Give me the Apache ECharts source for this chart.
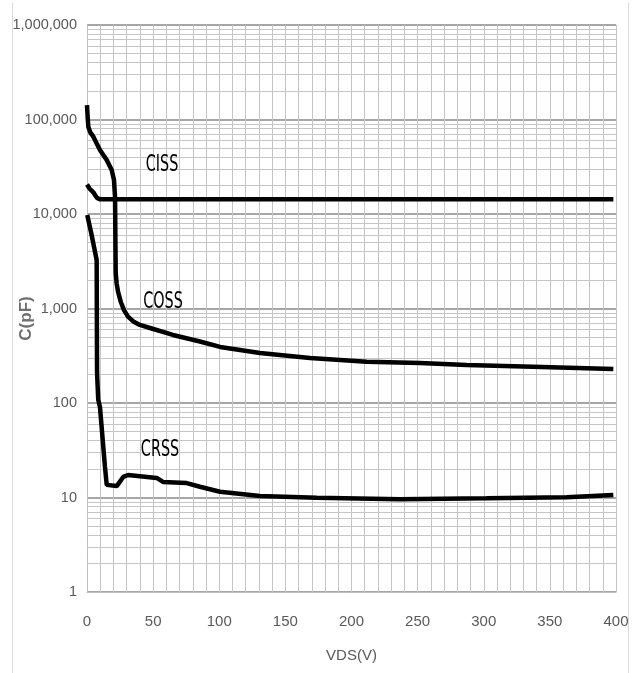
<!DOCTYPE html>
<html><head><meta charset="utf-8">
<script src="https://cdn.jsdelivr.net/npm/echarts@6/dist/echarts.min.js"></script>
<style>html,body{margin:0;padding:0;background:#fff}#c{width:635px;height:673px}</style>
</head><body><div id="c"></div>
<script>
// ---- data ----
const vdsCiss = [0, 2, 5, 7.5, 10, 50, 100, 200, 300, 398];
const ciss    = [20500, 18500, 16800, 14800, 14300, 14300, 14300, 14300, 14300, 14300];

const vdsCoss = [0, 0.5, 1, 2.5, 4.8, 9.8, 14.9, 18.7, 20.4, 21.2, 21.7, 22.4, 23.5, 25.5, 28, 31, 35, 40, 47.6, 65, 85.4, 100.6, 130.8, 168.6, 211.5, 251.8, 287, 337, 398];
const coss    = [142000, 105000, 84000, 73000, 65800, 47600, 37300, 29200, 22900, 15200, 2400, 1850, 1500, 1180, 960, 820, 730, 670, 622, 525, 448, 392, 338, 299, 273, 265, 252, 242, 229];

const vdsCrss = [0.2, 3.5, 7.3, 7.6, 8.5, 9.8, 13.6, 14.9, 22.5, 27.4, 31, 52.7, 57.5, 75.4, 85.4, 100.6, 130.8, 173.7, 236.7, 302, 362.7, 398];
const crss    = [9760, 6000, 3260, 208, 108, 90.7, 21, 13.6, 13.2, 16.5, 17.3, 16.1, 14.6, 14.2, 13.0, 11.5, 10.4, 9.95, 9.6, 9.8, 10.05, 10.6];

const labelNames = ['CISS', 'COSS', 'CRSS'];
const labelVds   = [56.7, 57.5, 55.2];
const labelCap   = [33000, 1170, 31.8];

const xTicks = [0, 50, 100, 150, 200, 250, 300, 350, 400];
const yDecades = [1, 10, 100, 1000, 10000, 100000, 1000000];

// ---- build ----
const pairs = (xs, ys) => xs.map((x, i) => [x, ys[i]]);
const minorGrid = [];
for (let k = 0; k < yDecades.length - 1; k++) {
  for (let m = 2; m <= 9; m++) minorGrid.push({ yAxis: m * yDecades[k] });
}
const FONT = "'Liberation Sans', Arial, sans-serif";
const lineStyle = { color: '#000', width: 4.5 };

const chart = echarts.init(document.getElementById('c'), null, { renderer: 'canvas' });
chart.setOption({
  animation: false,
  backgroundColor: '#fff',
  grid: { left: 87, right: 19, top: 25, bottom: 81, containLabel: false, outerBoundsMode: 'none' },
  xAxis: {
    type: 'value', min: 0, max: 400, interval: 50,
    name: 'VDS(V)', nameLocation: 'middle', nameGap: 56, nameMoveOverlap: false,
    nameTextStyle: { fontFamily: FONT, fontSize: 15, color: '#595959' },
    axisLine: { show: true, lineStyle: { color: '#bfbfbf', width: 1 } },
    axisTick: { show: false },
    axisLabel: { fontFamily: FONT, fontSize: 15, color: '#595959', margin: 22,
                 formatter: v => xTicks.indexOf(v) >= 0 ? String(v) : '' },
    splitLine: { show: true, lineStyle: { color: '#c4c4c4', width: 1 } },
    minorTick: { show: false, splitNumber: 5 },
    minorSplitLine: { show: true, lineStyle: { color: '#c4c4c4', width: 1 } }
  },
  yAxis: {
    type: 'log', logBase: 10, min: 1, max: 1000000,
    name: 'C(pF)', nameLocation: 'middle', nameGap: 52, nameRotate: 90, nameMoveOverlap: false,
    nameTextStyle: { fontFamily: FONT, fontSize: 17, fontWeight: 'bold', color: '#6f6f6f', padding: [0, 20, 0, 0] },
    axisLine: { show: true, lineStyle: { color: '#bfbfbf', width: 1 } },
    axisTick: { show: false },
    axisLabel: { fontFamily: FONT, fontSize: 14.5, color: '#595959', margin: 10,
                 formatter: v => Number(v).toLocaleString('en-US') },
    splitLine: { show: true, lineStyle: { color: '#a6a6a6', width: 2 } }
  },
  series: [
    { type: 'line', data: [], z: 1, silent: true,
      markLine: { silent: true, z: 1, symbol: ['none', 'none'], label: { show: false },
                  lineStyle: { color: '#c6c6c6', width: 1, type: 'solid' }, data: minorGrid, animation: false } },
    { name: 'CISS', type: 'line', z: 3, showSymbol: false, lineStyle, data: pairs(vdsCiss, ciss) },
    { name: 'COSS', type: 'line', z: 3, showSymbol: false, lineStyle, data: pairs(vdsCoss, coss) },
    { name: 'CRSS', type: 'line', z: 3, showSymbol: false, lineStyle, data: pairs(vdsCrss, crss) }
  ]
});

// annotations: positioned from data coordinates through the chart's own axes
const frame = [
  { type: 'line', silent: true, shape: { x1: 12.5, y1: 3, x2: 12.5, y2: 673 }, style: { stroke: '#d9d9d9', lineWidth: 1 } },
  { type: 'line', silent: true, shape: { x1: 628.5, y1: 3, x2: 628.5, y2: 673 }, style: { stroke: '#d9d9d9', lineWidth: 1 } }
];
const annots = labelNames.map((t, i) => {
  const p = chart.convertToPixel({ gridIndex: 0 }, [labelVds[i], labelCap[i]]);
  return {
    type: 'text', silent: true, x: p[0], y: p[1], scaleX: 1, scaleY: 1.45, z: 10,
    style: { text: t, fontFamily: "'DejaVu Sans Condensed', " + FONT, fontSize: 16,
             fill: '#000', align: 'center', verticalAlign: 'middle' }
  };
});
chart.setOption({ graphic: frame.concat(annots) });
</script>
</body></html>
